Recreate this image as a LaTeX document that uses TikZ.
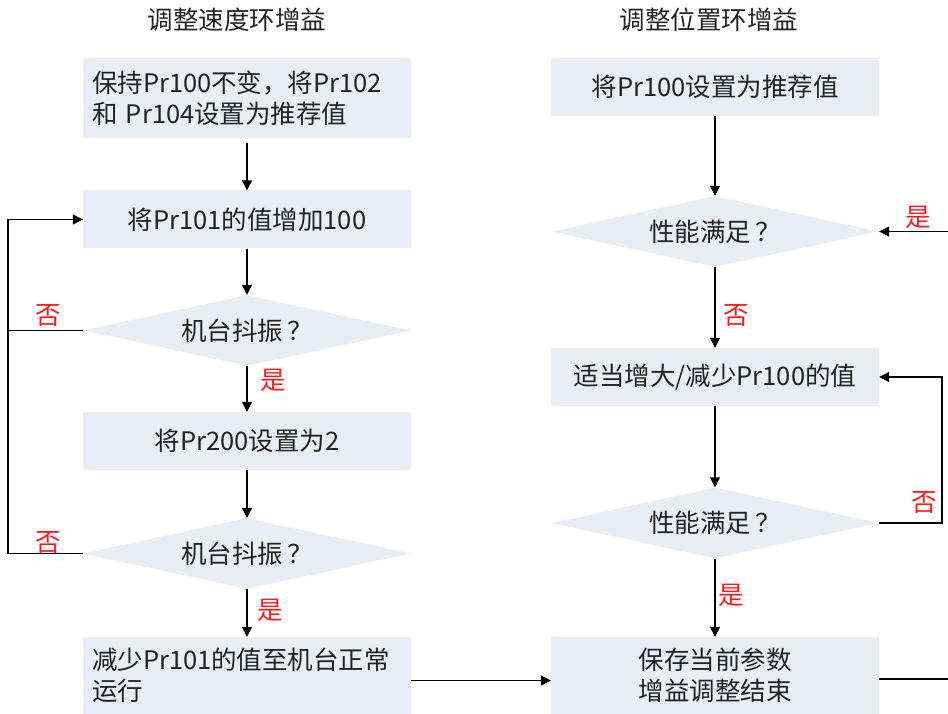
\documentclass[tikz,border=0pt]{standalone}
\usepackage{fontspec}
\setmainfont{Noto Sans CJK SC}
\usetikzlibrary{shapes.geometric,arrows.meta,calc}
\definecolor{boxfill}{HTML}{E9EEF5}
\definecolor{txt}{HTML}{222222}
\definecolor{lab}{HTML}{FF1A1A}
\begin{document}
\begin{tikzpicture}[x=1pt,y=-1pt,
  every node/.style={font=\fontsize{25.5}{31}\selectfont, text=txt},
  box/.style={rectangle, fill=boxfill, minimum width=328pt, minimum height=58pt, inner sep=0pt},
  tbox/.style={box, text width=310pt, inner xsep=9pt, align=left},
  decision/.style={diamond, fill=boxfill, minimum width=328pt, minimum height=71pt, inner sep=0pt},
  arr/.style={draw=black, line width=1.2pt, -{Triangle[length=10pt,width=10pt]}},
  ln/.style={draw=black, line width=1.2pt},
  yeslab/.style={text=lab},
]
\useasboundingbox (0,0) rectangle (948,714);

% titles
\node (tl) at (237,20) {调整速度环增益};
\node (tr) at (709,20) {调整位置环增益};

% left column
\node[tbox, minimum height=80pt] (b1) at (247,98) {保持Pr100不变，将Pr102\\和 Pr104设置为推荐值};
\node[box] (b2) at (247,219.5) {将Pr101的值增加100};
\node[decision, label={center:机台抖振\,？}] (d1) at (247,330.5) {};
\node[box] (b3) at (247,441) {将Pr200设置为2};
\node[decision, label={center:机台抖振\,？}] (d2) at (247,553.5) {};
\node[tbox, minimum height=77pt] (b4) at (247,675.5) {减少Pr101的值至机台正常\\运行};

% right column
\node[box] (r1) at (715,87) {将Pr100设置为推荐值};
\node[decision, label={center:性能满足\,？}] (rd1) at (715,231.5) {};
\node[box] (r2) at (715,377) {适当增大/减少Pr100的值};
\node[decision, label={center:性能满足\,？}] (rd2) at (715,523) {};
\node[box, minimum height=77pt, align=center] (r3) at (715,675.5) {保存当前参数\\增益调整结束};

% helper coordinates
\coordinate (lx) at (8,0);
\coordinate (rx) at (942,0);
\coordinate (rin) at (948,231.5);
\coordinate (rout) at (948,679);

% left connectors
\draw[arr] ([yshift=-5pt]b1.south) -- (b2.north);
\draw[arr] (b2.south) -- (d1.north);
\draw[arr] (d1.south) -- (b3.north);
\draw[arr] (b3.south) -- (d2.north);
\draw[arr] (d2.south) -- (b4.north);
\draw[ln] (d1.west) -- (lx |- d1.west);
\draw[arr] (d2.west) -| (lx |- b2.west) -- (b2.west);
\draw[arr] ([yshift=-5pt]b4.east) -- ([yshift=-5pt]r3.west);

% right connectors
\draw[arr] (r1.south) -- (rd1.north);
\draw[arr] (rd1.south) -- (r2.north);
\draw[arr] (r2.south) -- (rd2.north);
\draw[arr] (rd2.south) -- (r3.north);
\draw[arr] (rin) -- (rd1.east);
\draw[arr] (rd2.east) -| (rx |- r2.east) -- (r2.east);
\draw[ln] (r3.east |- rout) -- (rout);

% labels
\node[yeslab] (n1) at (48,316) {否};
\node[yeslab] (n2) at (48,543) {否};
\node[yeslab] (y1) at (273,380) {是};
\node[yeslab] (y2) at (270,610) {是};
\node[yeslab] (y3) at (918,217) {是};
\node[yeslab] (n3) at (736,316) {否};
\node[yeslab] (n4) at (924,503) {否};
\node[yeslab] (y4) at (731,595) {是};
\end{tikzpicture}
\end{document}
